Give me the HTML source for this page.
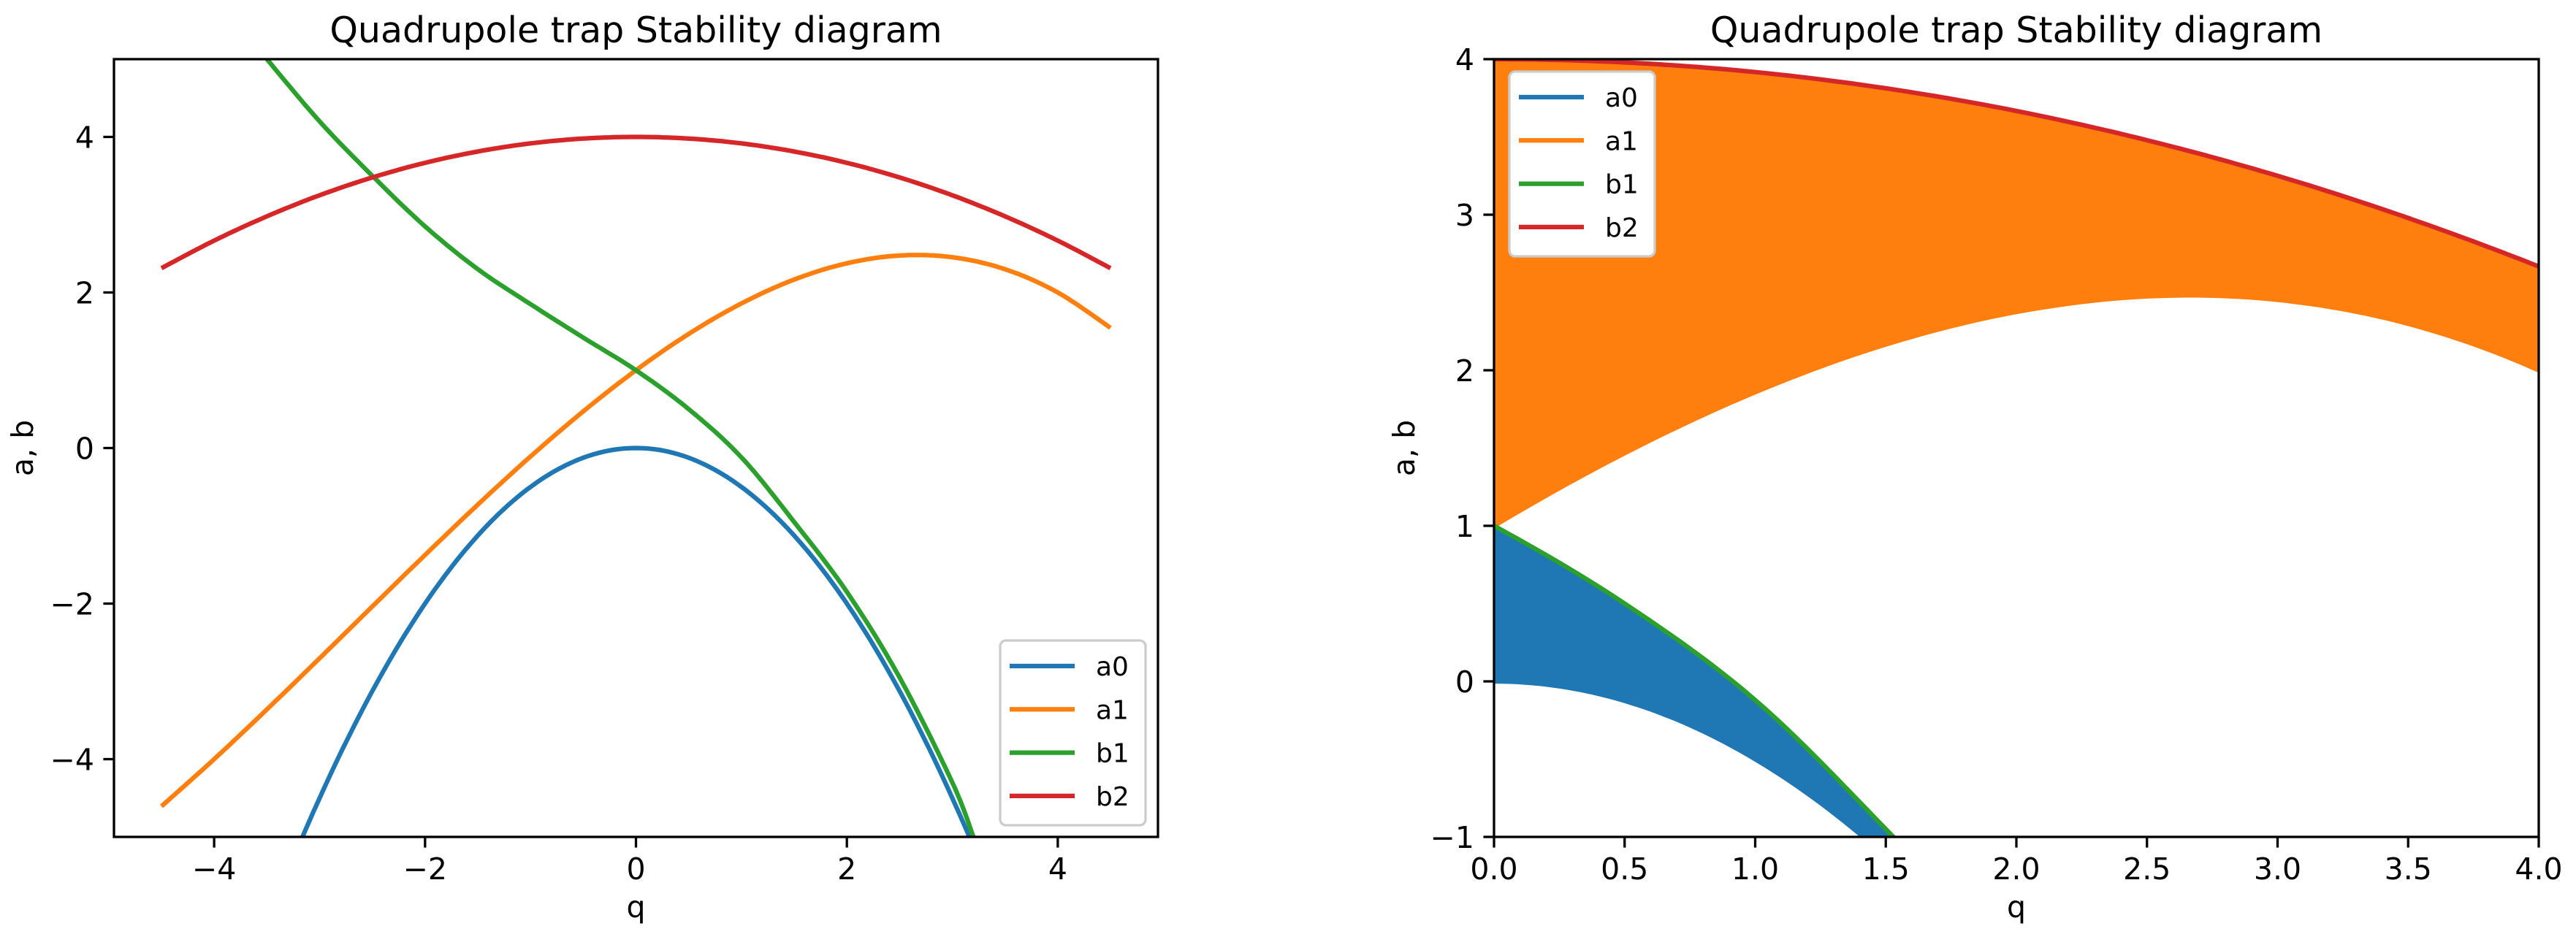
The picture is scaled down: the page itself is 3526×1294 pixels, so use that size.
<!DOCTYPE html>
<html><head><meta charset="utf-8"><style>
html,body{margin:0;padding:0;background:#fff;overflow:hidden;width:3526px;height:1294px;}
svg{display:block;font-family:"DejaVu Sans","Liberation Sans",sans-serif;}
</style></head><body>
<svg id="fig" width="3526" height="1294" viewBox="0 0 3526 1294" xmlns="http://www.w3.org/2000/svg">
<defs>
<clipPath id="clipL"><rect x="156" y="81" width="1429" height="1065"/></clipPath>
<clipPath id="clipR"><rect x="2045" y="81" width="1430" height="1065"/></clipPath>
</defs>
<g id="left"></g>
<g id="right"></g>
</svg>
<script>
// ---- data ----
const qGrid = [-4.5,-4,-3.5,-3,-2.5,-2,-1.5,-1,-0.5,0,0.5,1,1.5,2,2.5,3,3.5,4,4.5];
const a0Vals = [-10.125,-8,-6.125,-4.5,-3.125,-2,-1.125,-0.5,-0.125,0,-0.125,-0.5,-1.125,-2,-3.125,-4.5,-6.125,-8,-10.125];
const a1Vals = [-4.607,-4,-3.361,-2.703,-2.037,-1.375,-0.728,-0.109,0.471,1,1.467,1.859,2.166,2.375,2.475,2.453,2.299,2.0,1.545];
const b1Q = [-3.5,-3,-2.5,-2,-1.5,-1,-0.5,0,0.5,1,1.5,2,2.5,3,3.2];
const b1Vals = [5.0,4.2,3.5,2.85,2.3,1.85,1.42,1.0,0.5,-0.12,-0.95,-1.85,-2.95,-4.3,-5.0];
const b2Vals = [2.3125,2.667,2.979,3.25,3.479,3.667,3.8125,3.917,3.979,4,3.979,3.917,3.8125,3.667,3.479,3.25,2.979,2.667,2.3125];
const seriesNames = ["a0","a1","b1","b2"];
const seriesColors = ["#1f77b4","#ff7f0e","#2ca02c","#d62728"];
const leftXTicks = [-4,-2,0,2,4];
const leftYTicks = [-4,-2,0,2,4];
const rightXTicks = [0,0.5,1,1.5,2,2.5,3,3.5,4];
const rightYTicks = [-1,0,1,2,3,4];

const NS="http://www.w3.org/2000/svg";
function mk(parent,tag,attrs,text){const e=document.createElementNS(NS,tag);for(const k in attrs)e.setAttribute(k,attrs[k]);if(text!==undefined)e.textContent=text;parent.appendChild(e);return e;}
function fmt(v,dec){let s=v.toFixed(dec);return s.replace('-','\u2212');}
function dense(xs,ys,n){const out=[];for(let i=0;i<xs.length-1;i++){const p0=i>0?i-1:i,p3=i+2<xs.length?i+2:i+1;for(let k=0;k<n;k++){const t=k/n,t2=t*t,t3=t2*t;const f=(a,b,c,d)=>0.5*((2*b)+(-a+c)*t+(2*a-5*b+4*c-d)*t2+(-a+3*b-3*c+d)*t3);out.push([f(xs[p0],xs[i],xs[i+1],xs[p3]),f(ys[p0],ys[i],ys[i+1],ys[p3])]);}}out.push([xs[xs.length-1],ys[ys.length-1]]);return out;}
function interp(pts,x){for(let i=0;i<pts.length-1;i++){if(x>=pts[i][0]&&x<=pts[i+1][0]){const t=(x-pts[i][0])/(pts[i+1][0]-pts[i][0]||1);return pts[i][1]+t*(pts[i+1][1]-pts[i][1]);}}return null;}

const curves=[dense(qGrid,a0Vals,16),dense(qGrid,a1Vals,16),dense(b1Q,b1Vals,16),dense(qGrid,b2Vals,16)];

function axes(g,o){
  const sx=v=>o.x0+(v-o.xmin)/(o.xmax-o.xmin)*o.w, sy=v=>o.y0+o.h-(v-o.ymin)/(o.ymax-o.ymin)*o.h;
  const plot=mk(g,'g',{'clip-path':'url(#'+o.clip+')'});
  
  
  if(o.fill){
    const bands=[[0,2,0,"fill-a0-b1"],[1,3,1,"fill-a1-b2"]];
    bands.forEach(b=>{
      const lo=curves[b[0]].filter(p=>p[0]>=0), hiC=curves[b[1]];
      const xsUp=lo.map(p=>p[0]).filter(x=>interp(hiC,x)!==null);
      let d='';xsUp.forEach((x,i)=>{d+=(i?'L':'M')+sx(x).toFixed(1)+','+sy(interp(lo,x)).toFixed(1);});
      for(let i=xsUp.length-1;i>=0;i--){d+='L'+sx(xsUp[i]).toFixed(1)+','+sy(interp(hiC,xsUp[i])).toFixed(1);}
      const p=mk(plot,'path',{d:d+'Z',fill:seriesColors[b[2]],stroke:'none'});
      
      
    });
  }
  curves.forEach((c,i)=>{
    const pts=c.filter(p=>p[0]>=o.dataMin);
    const pl=mk(plot,'polyline',{points:pts.map(p=>sx(p[0]).toFixed(1)+','+sy(p[1]).toFixed(1)).join(' '),fill:'none',stroke:seriesColors[i],'stroke-width':6.25,'stroke-linejoin':'round'});
    
    
  });
  const fr=mk(g,'rect',{x:o.x0,y:o.y0,width:o.w,height:o.h,fill:'none',stroke:'#000','stroke-width':3.3});
  
  
  o.xt.forEach(v=>{const x=sx(v);mk(g,'line',{x1:x,x2:x,y1:o.y0+o.h,y2:o.y0+o.h+14.6,stroke:'#000','stroke-width':3.3});
    const t=mk(g,'text',{x:x,y:o.y0+o.h+58,'text-anchor':'middle','font-size':41},fmt(v,o.xdec));
    
    });
  o.yt.forEach(v=>{const y=sy(v);mk(g,'line',{x1:o.x0-14.6,x2:o.x0,y1:y,y2:y,stroke:'#000','stroke-width':3.3});
    const t=mk(g,'text',{x:o.x0-27,y:y+15,'text-anchor':'end','font-size':41},fmt(v,0));
    
    });
  const tt=mk(g,'text',{x:o.x0+o.w/2,y:58,'text-anchor':'middle','font-size':49},'Quadrupole trap Stability diagram');
  
  
  const xl=mk(g,'text',{x:o.x0+o.w/2,y:1256,'text-anchor':'middle','font-size':41},'q');
  
  
  const yl=mk(g,'text',{x:0,y:0,'text-anchor':'middle','font-size':41,transform:'translate('+o.ylx+','+(o.y0+o.h/2)+') rotate(-90)'},'a, b');
  
  
  const lg=mk(g,'g',{});
  
  
  mk(lg,'rect',{x:o.lx,y:o.ly,width:199,height:253,rx:8,fill:'#fff',stroke:'#cccccc','stroke-width':3.3});
  seriesNames.forEach((n,i)=>{const y=o.ly+35+i*59.3;
    const e=mk(lg,'g',{});
    
    
    mk(e,'line',{x1:o.lx+13,x2:o.lx+102,y1:y,y2:y,stroke:seriesColors[i],'stroke-width':6.25});
    mk(e,'text',{x:o.lx+131,y:y+13,'font-size':36},n);});
}
axes(document.getElementById('left'),{x0:156,y0:81,w:1429,h:1065,xmin:-4.95,xmax:4.95,ymin:-5,ymax:5,clip:'clipL',xt:leftXTicks,yt:leftYTicks,xdec:0,ylx:45,lx:1369,ly:877,dataMin:-99,fill:false});
axes(document.getElementById('right'),{x0:2045,y0:81,w:1430,h:1065,xmin:0,xmax:4,ymin:-1,ymax:4,clip:'clipR',xt:rightXTicks,yt:rightYTicks,xdec:1,ylx:1936,lx:2066,ly:98,dataMin:0,fill:true});
</script>
</body></html>
